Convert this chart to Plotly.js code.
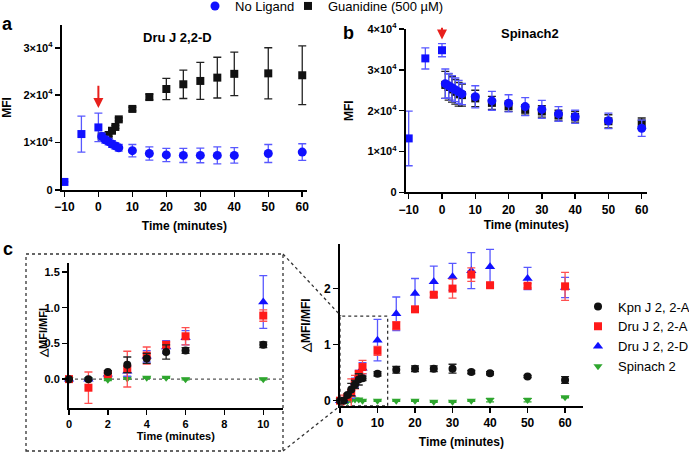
<!DOCTYPE html>
<html><head><meta charset="utf-8">
<script src="https://cdn.plot.ly/plotly-3.0.1.min.js"></script>
<style>html,body{margin:0;padding:0;background:#fff}#chart{width:689px;height:453px}</style>
</head><body><div id="chart"></div>
<script>
// ---------- data ----------
const preTime = [-10, -5, 0];
const postTime = [1, 2, 3, 4, 5, 6, 10, 15, 20, 25, 30, 35, 40, 50, 60];

// Panel a: Dru J 2,2-D
const aPreMFI = [1700, 11800, 13200];
const aPreErr = [0, 3800, 3000];
const aNoLigandMFI = [11300, 10600, 10200, 9700, 9300, 8900, 8300, 7700, 7400, 7300, 7300, 7300, 7300, 7700, 8000];
const aNoLigandErr = [700, 700, 700, 700, 700, 700, 1300, 1400, 1400, 1500, 1550, 1800, 1650, 1900, 1750];
const aGuanMFI = [11300, 11300, 11600, 12500, 13300, 14900, 17100, 19600, 21300, 22300, 23000, 23700, 24500, 24600, 24200];
const aGuanErr = [300, 300, 300, 300, 300, 300, 400, 600, 2250, 3000, 3900, 4300, 4600, 5400, 6200];

// Panel b: Spinach2
const bPreMFI = [13200, 32800, 34800];
const bPreErr = [6700, 2600, 1600];
const bNoLigandMFI = [26600, 26100, 25600, 25100, 24600, 24100, 23400, 22400, 21800, 21000, 20300, 19200, 18500, 17500, 15700];
const bNoLigandErr = [3600, 3000, 3000, 2900, 2800, 2600, 2700, 2300, 2100, 2200, 2200, 1800, 1600, 1900, 2000];
const bGuanMFI = [26300, 25800, 25200, 24600, 24000, 23800, 23000, 21900, 21100, 20200, 19800, 18800, 18500, 17400, 16900];
const bGuanErr = [3300, 3200, 3100, 3000, 2900, 2700, 2000, 1600, 1300, 1300, 1400, 1300, 1300, 1600, 1300];

// Panel c: ΔMFI/MFI
const cTime = [0, 1, 2, 3, 4, 5, 6, 10, 15, 20, 25, 30, 35, 40, 50, 60];
const kpnA = [0, 0, 0.10, 0.20, 0.29, 0.38, 0.40, 0.48, 0.55, 0.57, 0.57, 0.57, 0.51, 0.49, 0.43, 0.37];
const kpnAErr = [0, 0, 0.02, 0.11, 0.07, 0.10, 0.04, 0.04, 0.06, 0.05, 0.05, 0.08, 0.03, 0.03, 0.02, 0.06];
const druA = [0, -0.12, 0.07, 0.14, 0.33, 0.48, 0.60, 0.89, 1.34, 1.63, 1.89, 2.00, 2.25, 2.06, 2.05, 2.04];
const druAErr = [0, 0.22, 0.02, 0.25, 0.12, 0.04, 0.12, 0.08, 0.07, 0.04, 0.04, 0.17, 0.12, 0.04, 0.04, 0.25];
const druD = [0, 0, 0.07, 0.11, 0.32, 0.45, 0.58, 1.08, 1.55, 1.91, 2.12, 2.21, 2.32, 2.39, 2.18, 2.02];
const druDErr = [0, 0.01, 0.02, 0.07, 0.08, 0.09, 0.10, 0.37, 0.30, 0.27, 0.28, 0.24, 0.32, 0.31, 0.20, 0.18];
const spinach = [0, 0, -0.01, 0.01, 0.02, 0.02, 0, 0, 0, 0, -0.02, -0.02, 0, 0.01, 0.01, 0.06];
const spinachErr = [0, 0, 0.01, 0.01, 0.01, 0.01, 0.01, 0.01, 0.01, 0.01, 0.01, 0.01, 0.01, 0.03, 0.03, 0.01];

const mfiTickVals = [0, 10000, 20000, 30000, 40000];
const mfiTickText = ['0', '1×10<sup>4</sup>', '2×10<sup>4</sup>', '3×10<sup>4</sup>', '4×10<sup>4</sup>'];
const timeTicksAB = [-10, 0, 10, 20, 30, 40, 50, 60];
const timeTicksInset = [0, 2, 4, 6, 8, 10];
const timeTicksC = [0, 10, 20, 30, 40, 50, 60];
const ratioTicksInset = [0, 0.5, 1.0, 1.5];
const ratioTickTextInset = ['0.0', '0.5', '1.0', '1.5'];
const ratioTicksC = [0, 1, 2];

// ---------- styling ----------
const W = 689, H = 453;
const fx = v => v / W;
const fy = v => 1 - v / H;
const FONT = 'Liberation Sans, Arial, Helvetica, sans-serif';
const BLUE = '#1010ff', BLUE_ERR = '#5858ff', BLACK = '#111111', RED = '#ff1a1a', RED_ERR = '#ff5050', GREEN = '#2ea62e';

function err(arr, color) {
  return {type: 'data', array: arr, visible: true, color: color, thickness: 1.3, width: 4};
}
function pts(x, y, e, opts) {
  return Object.assign({
    type: 'scatter', mode: 'markers', x: x, y: y,
    error_y: err(e, opts.errColor),
    marker: {symbol: opts.symbol, size: opts.size || 8, color: opts.color},
    cliponaxis: false, hoverinfo: 'skip', showlegend: false
  }, opts.extra || {});
}
const insetIdx = cTime.map((t, i) => i).filter(i => cTime[i] <= 10);
const sub = arr => insetIdx.map(i => arr[i]);

const traces = [];
// panel a
traces.push(pts(preTime, aPreMFI, aPreErr, {symbol: 'square', color: BLUE, errColor: BLUE_ERR, extra: {xaxis: 'x', yaxis: 'y'}}));
traces.push(pts(postTime, aGuanMFI, aGuanErr, {symbol: 'square', color: BLACK, errColor: '#222',
  extra: {xaxis: 'x', yaxis: 'y', name: 'Guanidine (500 µM)', showlegend: true, legend: 'legend3'}}));
traces.push(pts(postTime, aNoLigandMFI, aNoLigandErr, {symbol: 'circle', color: BLUE, errColor: BLUE_ERR, size: 9,
  extra: {xaxis: 'x', yaxis: 'y', name: 'No Ligand', showlegend: true, legend: 'legend'}}));
// panel b
traces.push(pts(preTime, bPreMFI, bPreErr, {symbol: 'square', color: BLUE, errColor: BLUE_ERR, extra: {xaxis: 'x2', yaxis: 'y2'}}));
traces.push(pts(postTime, bGuanMFI, bGuanErr, {symbol: 'square', color: BLACK, errColor: '#222', extra: {xaxis: 'x2', yaxis: 'y2'}}));
traces.push(pts(postTime, bNoLigandMFI, bNoLigandErr, {symbol: 'circle', color: BLUE, errColor: BLUE_ERR, size: 9, extra: {xaxis: 'x2', yaxis: 'y2'}}));

// panel c (drawn bottom to top: green, blue, red, black)
const cSeries = [
  {name: 'Spinach 2', y: spinach, e: spinachErr, symbol: 'triangle-down', color: GREEN, errColor: GREEN, size: 8},
  {name: 'Dru J 2, 2-D', y: druD, e: druDErr, symbol: 'triangle-up', color: BLUE, errColor: BLUE_ERR, size: 9},
  {name: 'Dru J 2, 2-A', y: druA, e: druAErr, symbol: 'square', color: RED, errColor: RED_ERR, size: 8},
  {name: 'Kpn J 2, 2-A', y: kpnA, e: kpnAErr, symbol: 'circle', color: BLACK, errColor: '#222', size: 8}
];
cSeries.forEach(s => {
  traces.push(pts(sub(cTime), sub(s.y), sub(s.e), {symbol: s.symbol, color: s.color, errColor: s.errColor, size: s.size,
    extra: {xaxis: 'x3', yaxis: 'y3', legendgroup: s.name}}));
  traces.push(pts(cTime, s.y, s.e, {symbol: s.symbol, color: s.color, errColor: s.errColor, size: s.size,
    extra: {xaxis: 'x4', yaxis: 'y4', legendgroup: s.name, name: s.name, showlegend: true, legend: 'legend2'}}));
});

const tickFont = {family: FONT, size: 12, color: '#000', weight: 'bold'};
const titleFont = {family: FONT, size: 12, color: '#000', weight: 'bold'};
function ax(o) {
  return Object.assign({
    showline: true, linecolor: '#000', linewidth: 2, ticks: 'outside', ticklen: 5, tickwidth: 1.5, tickcolor: '#000',
    showgrid: false, zeroline: false, tickfont: tickFont, fixedrange: true, tickmode: 'array', automargin: false
  }, o);
}
function note(x, y, text, size, extra) {
  return Object.assign({xref: 'paper', yref: 'paper', x: fx(x), y: fy(y), xanchor: 'center', yanchor: 'middle',
    text: text, showarrow: false, font: {family: FONT, size: size, color: '#000'}}, extra || {});
}

const layout = {
  width: W, height: H, margin: {l: 0, r: 0, t: 0, b: 0, pad: 0, autoexpand: false},
  paper_bgcolor: '#fff', plot_bgcolor: 'rgba(0,0,0,0)',
  font: {family: FONT, color: '#000'},
  xaxis: ax({domain: [fx(61.7), fx(307)], range: [-10.8, 61.4], tickvals: timeTicksAB, anchor: 'y',
    title: {text: 'Time (minutes)', font: titleFont, standoff: 8}}),
  yaxis: ax({domain: [fy(190), fy(25)], range: [0, 34800], tickvals: mfiTickVals.slice(0, 4), ticktext: mfiTickText.slice(0, 4), anchor: 'x',
    tickfont: Object.assign({}, tickFont, {size: 11}),
    title: {text: 'MFI', font: titleFont, standoff: 9}}),
  xaxis2: ax({domain: [fx(405.7), fx(646.7)], range: [-10.9, 61.5], tickvals: timeTicksAB, anchor: 'y2',
    title: {text: 'Time (minutes)', font: titleFont, standoff: 5}}),
  yaxis2: ax({domain: [fy(192.3), fy(29)], range: [0, 40000], tickvals: mfiTickVals, ticktext: mfiTickText, anchor: 'x2',
    tickfont: Object.assign({}, tickFont, {size: 11}),
    title: {text: 'MFI', font: titleFont, standoff: 11}}),
  xaxis3: ax({domain: [fx(69), fx(282.7)], range: [0, 11], tickvals: timeTicksInset, anchor: 'y3',
    tickfont: Object.assign({}, tickFont, {size: 11}),
    title: {text: 'Time (minutes)', font: Object.assign({}, titleFont, {size: 11}), standoff: 3}}),
  yaxis3: ax({domain: [fy(407.7), fy(262.7)], range: [-0.4, 1.63], tickvals: ratioTicksInset, ticktext: ratioTickTextInset, anchor: 'x3',
    tickfont: Object.assign({}, tickFont, {size: 11})}),
  xaxis4: ax({domain: [fx(340), fx(582.7)], range: [0, 64.7], tickvals: timeTicksC, anchor: 'y4',
    title: {text: 'Time (minutes)', font: titleFont, standoff: 8}}),
  yaxis4: ax({domain: [fy(406), fy(244.3)], range: [-0.095, 2.79], tickvals: ratioTicksC, anchor: 'x4',
    title: {text: '△MFI/MFI', font: titleFont, standoff: 11}}),
  legend: {x: fx(195), y: fy(6), xanchor: 'left', yanchor: 'middle', orientation: 'h', bgcolor: 'rgba(0,0,0,0)',
    font: {family: FONT, size: 13, color: '#000'}},
  legend3: {x: fx(288), y: fy(6), xanchor: 'left', yanchor: 'middle', orientation: 'h', bgcolor: 'rgba(0,0,0,0)',
    font: {family: FONT, size: 13, color: '#000'}},
  legend2: {x: fx(578), y: fy(336.5), xanchor: 'left', yanchor: 'middle', orientation: 'v', traceorder: 'reversed', tracegroupgap: 0,
    bgcolor: 'rgba(0,0,0,0)', font: {family: FONT, size: 13, color: '#000'}},
  shapes: [
    {type: 'rect', xref: 'paper', yref: 'paper', x0: fx(26), x1: fx(283), y0: fy(451), y1: fy(254), line: {color: '#333', width: 1.3, dash: 'dot'}},
    {type: 'rect', xref: 'x4', yref: 'y4', x0: 0, x1: 12.7, y0: -0.095, y1: 1.51, line: {color: '#333', width: 1.3, dash: 'dot'}},
    {type: 'line', xref: 'paper', yref: 'paper', x0: fx(283), y0: fy(254), x1: fx(341), y1: fy(316), line: {color: '#333', width: 1.3, dash: 'dot'}},
    {type: 'line', xref: 'paper', yref: 'paper', x0: fx(283), y0: fy(451), x1: fx(340), y1: fy(406), line: {color: '#333', width: 1.3, dash: 'dot'}},
    {type: 'line', xref: 'x3', yref: 'y3', x0: 0, x1: 11, y0: 0, y1: 0, line: {color: '#555', width: 1.3, dash: 'dot'}, layer: 'below'}
  ],
  annotations: [
    note(7, 24, '<b>a</b>', 18),
    note(348, 33, '<b>b</b>', 18),
    note(8, 249, '<b>c</b>', 18),
    note(177, 38, '<b>Dru J 2,2-D</b>', 13),
    note(530, 34, '<b>Spinach2</b>', 13),
    note(43, 333, '<b>△MFI/MFI</b>', 11, {textangle: -90}),
    {xref: 'x', yref: 'y', x: 0, y: 17300, axref: 'x', ayref: 'y', ax: 0, ay: 22300, showarrow: true, text: '',
      arrowcolor: '#e8201c', arrowwidth: 2, arrowhead: 2, arrowsize: 1},
    {xref: 'x2', yref: 'y2', x: 0, y: 37400, axref: 'x2', ayref: 'y2', ax: 0, ay: 40700, showarrow: true, text: '',
      arrowcolor: '#e8201c', arrowwidth: 2, arrowhead: 2, arrowsize: 1}
  ]
};

Plotly.newPlot('chart', traces, layout, {displayModeBar: false, staticPlot: true});
</script>
</body></html>
